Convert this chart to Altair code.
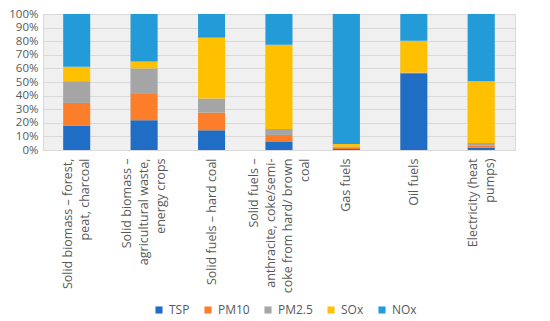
import altair as alt
import pandas as pd

categories = [
    "Solid biomass – forest,|peat, charcoal",
    "Solid biomass –|agricultural waste,|energy crops",
    "Solid fuels – hard coal",
    "Solid fuels –|anthracite, coke/semi-|coke from hard/ brown|coal",
    "Gas fuels",
    "Oil fuels",
    "Electricity (heat|pumps)",
]
pollutants = ["TSP", "PM10", "PM2.5", "SOx", "NOx"]
colors = ["#1f6dc4", "#fd7e2a", "#a5a5a5", "#ffc000", "#229bd8"]

tsp = [17.7, 21.9, 14.5, 5.9, 0.7, 56.5, 1.7]
pm10 = [16.9, 19.9, 13.0, 5.2, 0.8, 0.3, 1.7]
pm25 = [16.0, 18.2, 10.3, 4.4, 1.0, 0.2, 1.8]
sox = [10.6, 5.1, 44.8, 61.9, 1.9, 23.3, 45.4]
nox = [38.8, 34.9, 17.4, 22.6, 95.6, 19.7, 49.4]

series = [tsp, pm10, pm25, sox, nox]
rows = []
for p_i, (p, vals) in enumerate(zip(pollutants, series)):
    for c, v in zip(categories, vals):
        rows.append({"category": c, "pollutant": p, "value": v, "order": p_i})
df = pd.DataFrame(rows)

FONT = "Open Sans"
TXT = "#595959"
LH = 17

nlines = "length(split(datum.value, '|'))"
label_offset = {
    "condition": [
        {"test": f"{nlines} == 2", "value": -LH / 2},
        {"test": f"{nlines} == 3", "value": -LH},
        {"test": f"{nlines} == 4", "value": -1.5 * LH},
    ],
    "value": 0,
}

chart = alt.Chart(df).mark_bar(size=27).encode(
    x=alt.X(
        "category:N",
        sort=categories,
        title=None,
        scale=alt.Scale(paddingInner=0.6, paddingOuter=0.3),
        axis=alt.Axis(
            labelAngle=270,
            labelExpr="split(datum.label, '|')",
            labelFont=FONT,
            labelFontSize=12.5,
            labelColor=TXT,
            labelLineHeight=LH,
            labelPadding=8,
            labelOffset=label_offset,
            ticks=False,
            grid=True,
            bandPosition=0,
            gridColor="#d9d9d9",
            domainColor="#d9d9d9",
            labelLimit=300,
        ),
    ),
    y=alt.Y(
        "value:Q",
        stack="normalize",
        title=None,
        scale=alt.Scale(domain=[0, 1]),
        axis=alt.Axis(
            format="%",
            values=[i / 10 for i in range(11)],
            labelFont=FONT,
            labelFontSize=11.5,
            labelColor=TXT,
            ticks=False,
            domain=False,
            gridColor="#d9d9d9",
            labelPadding=5,
        ),
    ),
    color=alt.Color(
        "pollutant:N",
        sort=pollutants,
        scale=alt.Scale(domain=pollutants, range=colors),
        legend=alt.Legend(
            title=None,
            orient="none",
            legendX=110,
            legendY=290,
            direction="horizontal",
            symbolType="square",
            symbolSize=50,
            symbolStrokeWidth=0,
            labelFont=FONT,
            labelFontSize=12,
            labelColor=TXT,
            columnPadding=12,
        ),
    ),
    order=alt.Order("order:Q", sort="ascending"),
).properties(
    width=472,
    height=136,
    padding={"left": 0, "top": 0, "right": 5, "bottom": 0},
).configure_view(
    fill="#f0f0f0",
    stroke="#d9d9d9",
)

chart.save("out.html", embed_options={"renderer": "svg", "actions": False})
